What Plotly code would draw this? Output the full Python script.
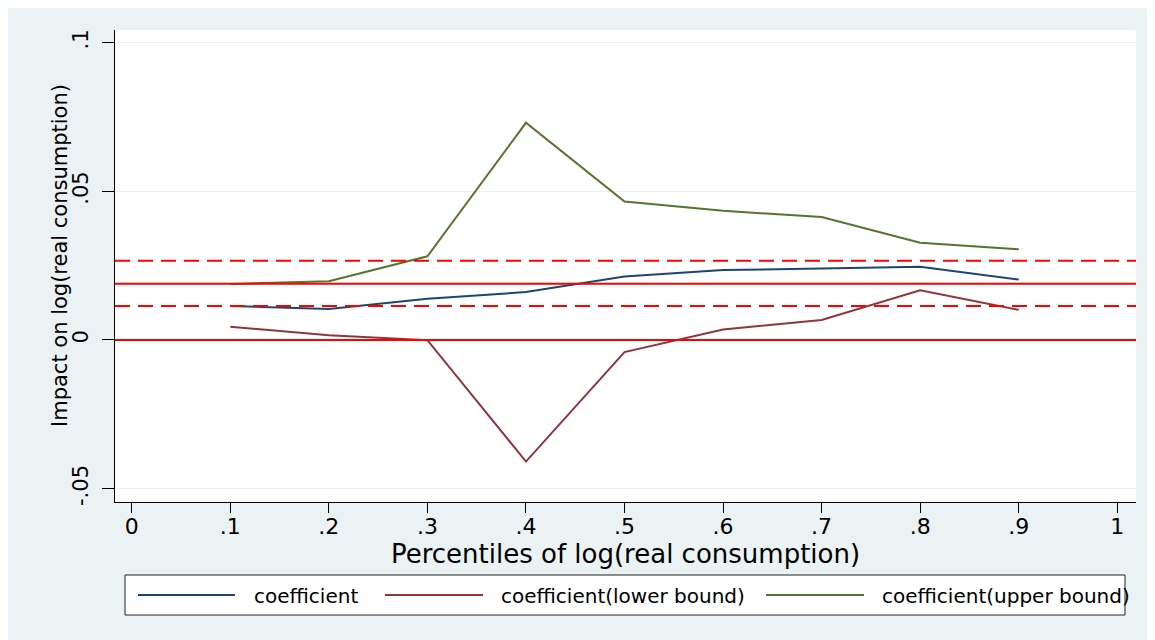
import plotly.graph_objects as go

# ---- data ----
percentiles = [0.1, 0.2, 0.3, 0.4, 0.5, 0.6, 0.7, 0.8, 0.9]
coefficient = [0.0114, 0.0104, 0.0138, 0.0161, 0.0213, 0.0235, 0.0240, 0.0246, 0.0203]
lower_bound = [0.0044, 0.0016, -0.0001, -0.0409, -0.0041, 0.0035, 0.0067, 0.0167, 0.0101]
upper_bound = [0.0188, 0.0197, 0.0281, 0.0730, 0.0465, 0.0434, 0.0413, 0.0327, 0.0305]
series_names = ["coefficient", "coefficient(lower bound)", "coefficient(upper bound)"]
series_colors = ["#1a476f", "#90353b", "#55752f"]

ref_solid = [0.0, 0.0189]
ref_dashed = [0.0114, 0.0266]

x_tickvals = [0, 0.1, 0.2, 0.3, 0.4, 0.5, 0.6, 0.7, 0.8, 0.9, 1.0]
x_ticktext = ["0", ".1", ".2", ".3", ".4", ".5", ".6", ".7", ".8", ".9", "1"]
y_tickvals = [-0.05, 0, 0.05, 0.1]
y_ticktext = ["-.05", "0", ".05", ".1"]

x_title = "Percentiles of log(real consumption)"
y_title = "Impact on log(real consumption)"

# ---- layout geometry (figure pixels; the page adds an 8px body margin) ----
W, H = 1155, 640
OFF = 8
L, R, T, B = 107, 27, 22, 146
PW, PH = W - L - R, H - T - B

def px_x(p):  # page pixel -> paper coordinate
    return (p - OFF - L) / PW

def px_y(p):
    return (H - B - (p - OFF)) / PH

FONT = "DejaVu Sans"
BG = "#eaf2f3"

fig = go.Figure()
for ys, name, col in zip([coefficient, lower_bound, upper_bound], series_names, series_colors):
    fig.add_trace(go.Scatter(x=percentiles, y=ys, mode="lines", name=name,
                             line=dict(color=col, width=2), showlegend=False))

for v in ref_solid:
    fig.add_hline(y=v, line=dict(color="#ff0000", width=2))
for v in ref_dashed:
    fig.add_hline(y=v, line=dict(color="#ff0000", width=2, dash="15px,8px"))

shapes = []
# legend box
shapes.append(dict(type="rect", xref="paper", yref="paper",
                   x0=px_x(125), x1=px_x(1125), y0=px_y(615), y1=px_y(575),
                   fillcolor="white", line=dict(color="#222222", width=1)))
annotations = []
leg_lines = [(138, 235), (385, 483), (766, 864)]
leg_text_x = [252, 499, 880]
for (a, b), tx, name, col in zip(leg_lines, leg_text_x, series_names, series_colors):
    shapes.append(dict(type="line", xref="paper", yref="paper",
                       x0=px_x(a), x1=px_x(b), y0=px_y(595), y1=px_y(595),
                       line=dict(color=col, width=2)))
    annotations.append(dict(text=name, xref="paper", yref="paper",
                            x=px_x(tx), y=px_y(596), xanchor="left", yanchor="middle",
                            showarrow=False, font=dict(family=FONT, size=20, color="black")))

# y-axis title
annotations.append(dict(text=y_title, xref="paper", yref="paper",
                        x=px_x(60), y=px_y(256), xanchor="center", yanchor="middle",
                        textangle=-90, showarrow=False,
                        font=dict(family=FONT, size=21, color="black")))

fig.update_layout(
    width=W, height=H,
    margin=dict(l=L, r=R, t=T, b=B),
    paper_bgcolor=BG, plot_bgcolor="white",
    shapes=list(fig.layout.shapes) + shapes,
    annotations=annotations,
    font=dict(family=FONT, color="black"),
)
fig.update_xaxes(range=[-0.017, 1.019], tickvals=x_tickvals, ticktext=x_ticktext,
                 showgrid=False, zeroline=False, showline=True, linecolor="black", linewidth=1,
                 ticks="outside", ticklen=10, tickcolor="black",
                 ticklabelstandoff=-5,
                 tickfont=dict(family=FONT, size=22),
                 title=dict(text=x_title, font=dict(family=FONT, size=26), standoff=0))
fig.update_yaxes(range=[-0.0545, 0.1042], tickvals=y_tickvals, ticktext=y_ticktext,
                 tickangle=-90, showgrid=True, gridcolor=BG, gridwidth=1, zeroline=False,
                 showline=True, linecolor="black", linewidth=1,
                 ticks="outside", ticklen=12, tickcolor="black",
                 ticklabelstandoff=6,
                 tickfont=dict(family=FONT, size=21))

fig.write_html("out.html")
